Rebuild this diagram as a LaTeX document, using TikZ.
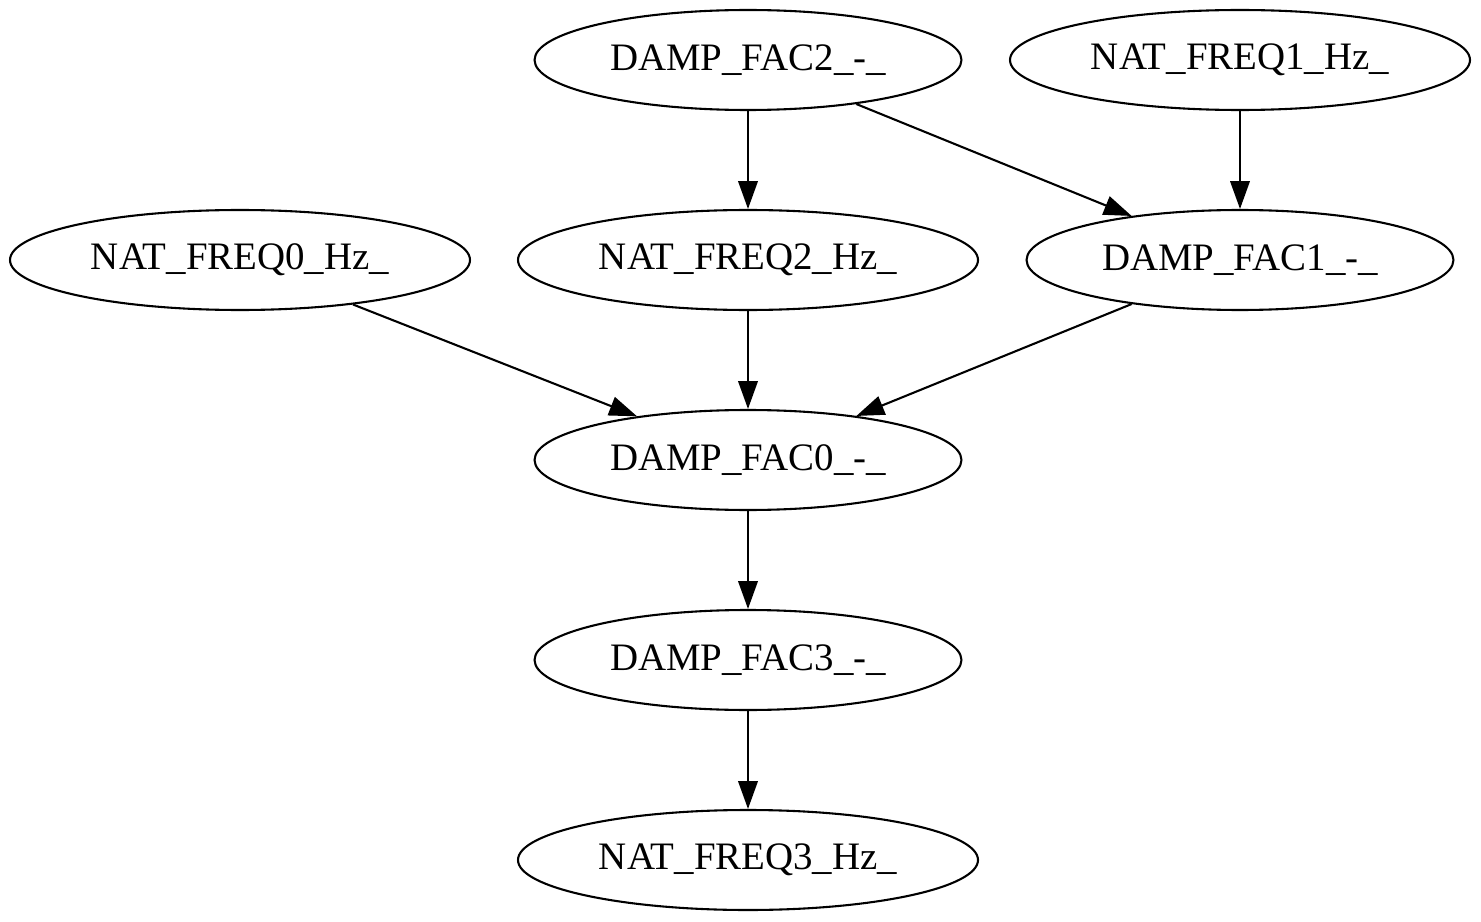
\documentclass[tikz,border=0pt]{standalone}
\usepackage{fontspec}
\setmainfont{Liberation Serif}
\usetikzlibrary{shapes.geometric,arrows.meta}
\begin{document}
\begin{tikzpicture}[x=0.36pt,y=-0.36pt,
  nd/.style={ellipse,draw,line width=0.75pt,inner sep=0pt,minimum height=36pt,font=\fontsize{14pt}{16pt}\selectfont},
  ndn/.style={nd,minimum width=153.7pt},
  ndw/.style={nd,minimum width=165.6pt},
  edge/.style={line width=0.75pt,-{Triangle[length=10pt,width=7pt]}}]
\useasboundingbox (0,0) rectangle (1481,922);
\node[ndn] (df2) at (748,60) {DAMP\_FAC2\_-\_};
\node[ndw] (nf1) at (1240,60) {NAT\_FREQ1\_Hz\_};
\node[ndw] (nf0) at (240,260) {NAT\_FREQ0\_Hz\_};
\node[ndw] (nf2) at (748,260) {NAT\_FREQ2\_Hz\_};
\node[ndn] (df1) at (1240,260) {DAMP\_FAC1\_-\_};
\node[ndn] (df0) at (748,460) {DAMP\_FAC0\_-\_};
\node[ndn] (df3) at (748,660) {DAMP\_FAC3\_-\_};
\node[ndw] (nf3) at (748,860) {NAT\_FREQ3\_Hz\_};
\draw[edge] (df2) -- (nf2);
\draw[edge] (df2) -- (df1);
\draw[edge] (nf1) -- (df1);
\draw[edge] (nf0) -- (df0);
\draw[edge] (nf2) -- (df0);
\draw[edge] (df1) -- (df0);
\draw[edge] (df0) -- (df3);
\draw[edge] (df3) -- (nf3);
\end{tikzpicture}
\end{document}
